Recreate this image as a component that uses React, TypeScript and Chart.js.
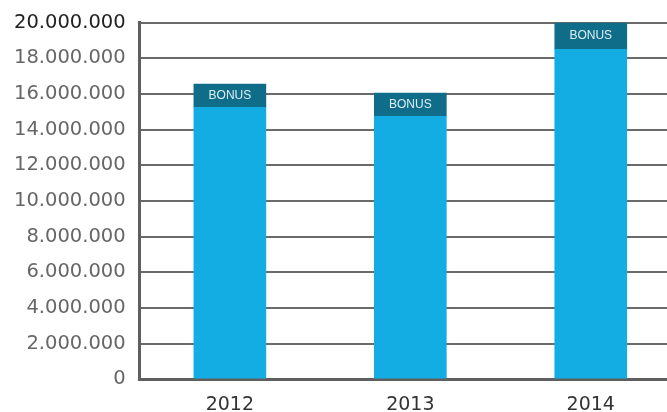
import React, { useEffect, useRef } from "react";
import { Chart, registerables } from "chart.js";

Chart.register(...registerables);

const years = ["2012", "2013", "2014"];
const baseValues = [15250000, 14750000, 18500000];
const bonusValues = [1300000, 1300000, 1500000];
const yTicks = [0, 2000000, 4000000, 6000000, 8000000, 10000000, 12000000, 14000000, 16000000, 18000000, 20000000];
const bonusLabel = "BONUS";

const fmt = (v: number) => (v === 0 ? "0" : v.toLocaleString("de-DE"));

const bonusTextPlugin = {
  id: "bonusText",
  afterDatasetsDraw(chart: any) {
    const meta = chart.getDatasetMeta(1);
    const ctx = chart.ctx;
    ctx.save();
    ctx.fillStyle = "#dcefF6";
    ctx.font = "12px 'Liberation Sans'";
    ctx.textAlign = "center";
    ctx.textBaseline = "middle";
    meta.data.forEach((bar: any) => {
      const y = (bar.y + bar.base) / 2;
      ctx.fillText(bonusLabel, bar.x, y);
    });
    ctx.restore();
  },
};

export default function App() {
  const ref = useRef<HTMLCanvasElement | null>(null);
  useEffect(() => {
    if (!ref.current) return;
    const chart = new Chart(ref.current, {
      type: "bar",
      data: {
        labels: years,
        datasets: [
          { label: "Base", data: baseValues, backgroundColor: "#14ade3", barThickness: 72, borderWidth: 0 },
          { label: "Bonus", data: bonusValues, backgroundColor: "#0f6d89", barThickness: 72, borderWidth: 0 },
        ],
      },
      options: {
        animation: false,
        responsive: false,
        maintainAspectRatio: false,
        layout: { padding: { left: 0, right: 0, top: 4, bottom: 0 } },
        plugins: { legend: { display: false }, tooltip: { enabled: false } },
        scales: {
          x: {
            stacked: true,
            grid: { display: false, drawTicks: false },
            border: { display: true, color: "#5f5f5f", width: 3 },
            ticks: { color: "#333", font: { family: "'DejaVu Sans'", size: 19 }, padding: 14 },
          },
          y: {
            stacked: true,
            min: 0,
            max: 20000000,
            afterBuildTicks: (axis: any) => {
              axis.ticks = yTicks.map((v) => ({ value: v }));
            },
            grid: { color: "#6a6a6a", lineWidth: 2, drawTicks: false },
            border: { display: true, color: "#5f5f5f", width: 3 },
            ticks: {
              color: (c: any) => (c.tick && c.tick.value === 20000000 ? "#222" : "#666"),
              font: { family: "'DejaVu Sans'", size: 19.5 },
              padding: 14,
              callback: (v: any) => fmt(Number(v)),
            },
          },
        },
      },
      plugins: [bonusTextPlugin],
    });
    return () => chart.destroy();
  }, []);
  return (
    <div style={{ position: "fixed", left: 0, top: 0, width: 667, height: 412, overflow: "hidden", background: "#fff" }}>
      <canvas
        ref={ref}
        width={681}
        height={433}
        style={{ width: 681, height: 433, display: "block", position: "absolute", left: 0, top: -3 }}
      />
    </div>
  );
}
